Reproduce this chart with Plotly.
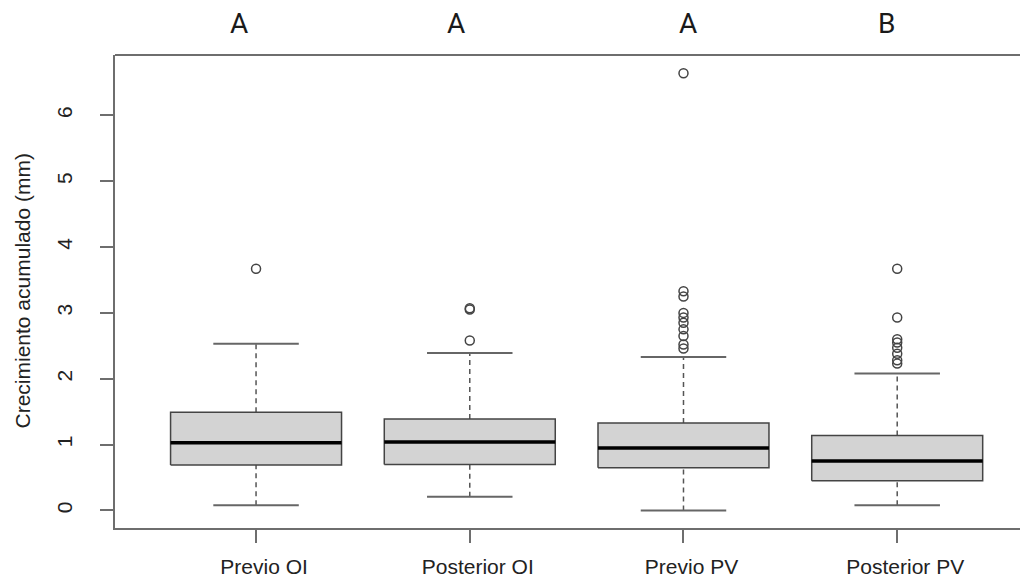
import plotly.graph_objects as go

# ---- data ----
categories = ["Previo OI", "Posterior OI", "Previo PV", "Posterior PV"]
lower_whisker = [0.08, 0.21, 0.00, 0.08]
q1 = [0.69, 0.70, 0.65, 0.45]
median = [1.03, 1.04, 0.95, 0.75]
q3 = [1.49, 1.39, 1.33, 1.14]
upper_whisker = [2.53, 2.39, 2.33, 2.08]
outliers = [
    [3.67],
    [3.05, 3.07, 2.58],
    [6.64, 3.33, 3.25, 3.00, 2.93, 2.85, 2.75, 2.65, 2.52, 2.46],
    [3.67, 2.93, 2.60, 2.55, 2.47, 2.38, 2.28, 2.23],
]
group_letters = ["A", "A", "A", "B"]
letter_pos = [0.92, 1.936, 3.021, 3.948]
y_ticks = [0, 1, 2, 3, 4, 5, 6]

BOX_HALF = 0.4
CAP_HALF = 0.2
EDGE = "#444444"
AXIS = "#6e6e6e"
TXT = "#222222"

fig = go.Figure()
pos = list(range(1, len(categories) + 1))

# whiskers (dashed)
wx, wy = [], []
for i, p in enumerate(pos):
    wx += [p, p, None, p, p, None]
    wy += [q3[i], upper_whisker[i], None, lower_whisker[i], q1[i], None]
fig.add_trace(go.Scatter(x=wx, y=wy, mode="lines",
                         line=dict(color="#555555", width=1.5, dash="5px,4px"),
                         hoverinfo="skip", showlegend=False))
# caps
cx, cy = [], []
for i, p in enumerate(pos):
    cx += [p - CAP_HALF, p + CAP_HALF, None, p - CAP_HALF, p + CAP_HALF, None]
    cy += [upper_whisker[i], upper_whisker[i], None, lower_whisker[i], lower_whisker[i], None]
fig.add_trace(go.Scatter(x=cx, y=cy, mode="lines",
                         line=dict(color="#666666", width=2),
                         hoverinfo="skip", showlegend=False))
# boxes
for i, p in enumerate(pos):
    fig.add_trace(go.Scatter(
        x=[p - BOX_HALF, p + BOX_HALF, p + BOX_HALF, p - BOX_HALF, p - BOX_HALF],
        y=[q1[i], q1[i], q3[i], q3[i], q1[i]],
        mode="lines", fill="toself", fillcolor="#d3d3d3",
        line=dict(color=EDGE, width=1.5), hoverinfo="skip", showlegend=False))
# medians
mx, my = [], []
for i, p in enumerate(pos):
    mx += [p - BOX_HALF, p + BOX_HALF, None]
    my += [median[i], median[i], None]
fig.add_trace(go.Scatter(x=mx, y=my, mode="lines",
                         line=dict(color="black", width=3.5),
                         hoverinfo="skip", showlegend=False))
# outliers
ox, oy = [], []
for i, p in enumerate(pos):
    ox += [p] * len(outliers[i])
    oy += outliers[i]
fig.add_trace(go.Scatter(x=ox, y=oy, mode="markers",
                         marker=dict(symbol="circle-open", size=9,
                                     line=dict(color="#444444", width=1.5),
                                     color="#444444"),
                         hoverinfo="skip", showlegend=False))

# group letters
for lx, lt in zip(letter_pos, group_letters):
    fig.add_annotation(x=lx, xref="x", y=1, yref="paper", yanchor="middle",
                       yshift=32, text=lt, showarrow=False,
                       font=dict(family="Liberation Sans Narrow, Roboto, sans-serif",
                                 size=28, color="#1a1a1a"))

# y-axis title
fig.add_annotation(x=0, xref="paper", y=0.5, yref="paper", xanchor="center",
                   yanchor="middle", xshift=-93, textangle=-90,
                   text="Crecimiento acumulado (mm)", showarrow=False,
                   font=dict(family="Liberation Sans, Arial, sans-serif", size=21, color=TXT))

# top border
fig.add_shape(type="line", xref="paper", yref="paper", x0=0, x1=1, y0=1, y1=1,
              line=dict(color=AXIS, width=2))

# page body has an 8px default margin: size the figure to the visible area
fig.update_layout(
    width=1020, height=573,
    margin=dict(l=107, r=0, t=47, b=53, autoexpand=False),
    paper_bgcolor="white", plot_bgcolor="white",
    font=dict(family="Liberation Sans, Arial, sans-serif", size=21, color=TXT),
    showlegend=False,
)
fig.update_xaxes(range=[0.34, 4.612], tickvals=pos, ticktext=categories,
                 automargin=False,
                 showgrid=False, zeroline=False, showline=True, linecolor=AXIS, linewidth=2,
                 ticks="outside", ticklen=13, tickcolor=AXIS, tickwidth=1.5,
                 ticklabelshift=8, ticklabelstandoff=6,
                 tickfont=dict(size=21, color=TXT))
fig.update_yaxes(range=[-0.266, 6.916], tickvals=y_ticks,
                 ticktext=[str(t) for t in y_ticks],
                 automargin=False,
                 showgrid=False, zeroline=False, showline=True, linecolor=AXIS, linewidth=2,
                 ticks="outside", ticklen=13, tickcolor=AXIS, tickwidth=1.5,
                 tickangle=-90, ticklabelstandoff=20,
                 tickfont=dict(size=21, color=TXT))

fig.write_html("out.html")
